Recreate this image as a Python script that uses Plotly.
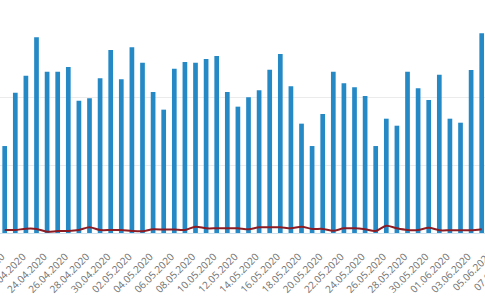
import plotly.graph_objects as go

dates = [
    "2020-04-20", "2020-04-21", "2020-04-22", "2020-04-23", "2020-04-24", "2020-04-25",
    "2020-04-26", "2020-04-27", "2020-04-28", "2020-04-29", "2020-04-30", "2020-05-01",
    "2020-05-02", "2020-05-03", "2020-05-04", "2020-05-05", "2020-05-06", "2020-05-07",
    "2020-05-08", "2020-05-09", "2020-05-10", "2020-05-11", "2020-05-12", "2020-05-13",
    "2020-05-14", "2020-05-15", "2020-05-16", "2020-05-17", "2020-05-18", "2020-05-19",
    "2020-05-20", "2020-05-21", "2020-05-22", "2020-05-23", "2020-05-24", "2020-05-25",
    "2020-05-26", "2020-05-27", "2020-05-28", "2020-05-29", "2020-05-30", "2020-05-31",
    "2020-06-01", "2020-06-02", "2020-06-03", "2020-06-04",
]

bar_values = [
    1279, 2063, 2314, 2877, 2373, 2373, 2441, 1946, 1980, 2275, 2691, 2260,
    2730, 2505, 2074, 1814, 2417, 2515, 2505, 2559, 2603, 2074, 1858, 1995,
    2098, 2402, 2632, 2157, 1608, 1279, 1750, 2373, 2201, 2142, 2015, 1279,
    1681, 1578, 2373, 2127, 1956, 2328, 1681, 1622, 2397, 2936,
]

line_values = [
    44, 44, 63, 60, 18, 29, 29, 44, 84, 44, 44, 44,
    30, 25, 54, 50, 50, 44, 93, 69, 69, 69, 69, 54,
    84, 84, 84, 69, 93, 60, 60, 34, 69, 69, 54, 29,
    107, 69, 44, 44, 78, 40, 40, 40, 40, 55,
]

# labels of the next days, whose ticks fall just past the visible window
edge_tick_vals = ["2020-06-02", "2020-06-04"]
edge_tick_text = ["05.06.2020", "07.06.2020"]

fig = go.Figure()
fig.add_trace(go.Bar(
    x=dates, y=bar_values,
    marker=dict(color="#2589c6", line=dict(width=0)),
    showlegend=False,
))
fig.add_trace(go.Scatter(
    x=dates, y=line_values, mode="lines", xaxis="x2",
    line=dict(color="#8c1c24", width=2, shape="spline", smoothing=0.8),
    showlegend=False,
))

tickfont = dict(family="Open Sans", size=10, color="#707070")
fig.update_layout(
    width=485, height=299,
    margin=dict(l=0, r=0, t=29, b=66, pad=0),
    paper_bgcolor="white", plot_bgcolor="white",
    bargap=0.557,
    font=dict(family="Open Sans", color="#666666", size=10),
    xaxis=dict(
        type="date",
        range=["2020-04-19 13:22", "2020-06-04 07:26"],
        tick0="2020-04-20", dtick=172800000,
        tickformat="%d.%m.%Y", tickangle=-45, tickfont=tickfont,
        showgrid=False, showline=True, linecolor="#cfe0ee", linewidth=1,
        ticks="", automargin=False,
        ticklabelstandoff=13, ticklabelshift=-3, ticklabeloverflow="allow",
    ),
    xaxis2=dict(
        type="date", overlaying="x", matches="x", anchor="y", side="bottom",
        tickmode="array", tickvals=edge_tick_vals, ticktext=edge_tick_text,
        tickangle=-45, tickfont=tickfont,
        showgrid=False, showline=False, zeroline=False,
        ticks="", automargin=False,
        ticklabelstandoff=13, ticklabelshift=29, ticklabeloverflow="allow",
    ),
    yaxis=dict(
        range=[0, 3000], dtick=1000,
        showgrid=True, gridcolor="#ebebeb", gridwidth=1,
        zeroline=False, showticklabels=False, automargin=False,
    ),
)

fig.write_html("out.html")
